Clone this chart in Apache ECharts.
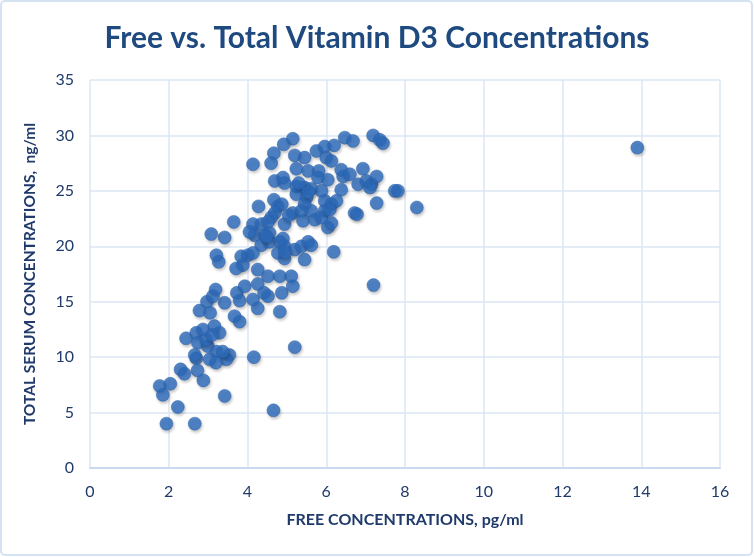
<!DOCTYPE html>
<html><head><meta charset="utf-8">
<script src="https://cdn.jsdelivr.net/npm/echarts@6/dist/echarts.min.js"></script>
<style>html,body{margin:0;padding:0;background:#fff}#c{width:754px;height:557px}</style>
</head><body><div id="c"></div>
<script>
const titleText = "Free vs. Total Vitamin D3 Concentrations";
const xName = "FREE CONCENTRATIONS, pg/ml";
const yName = "TOTAL SERUM CONCENTRATIONS,  ng/ml";
const xTicks = [0,2,4,6,8,10,12,14,16];
const yTicks = [0,5,10,15,20,25,30,35];
const freeConc = [5.15,4.92,4.67,4.60,4.14,5.20,5.45,5.75,5.96,6.0,6.13,5.24,5.54,4.69,4.90,4.94,5.81,5.79,6.04,5.24,5.45,5.62,5.88,5.24,5.50,5.45,5.96,6.13,4.67,4.77,4.87,4.28,5.15,5.37,5.41,5.62,5.71,5.96,5.88,6.04,4.69,4.60,4.94,3.65,4.14,4.35,4.52,4.18,4.44,4.56,3.42,4.35,4.56,4.82,4.90,4.94,5.20,5.37,5.54,5.62,4.77,4.94,5.45,3.84,4.01,4.14,3.88,3.71,4.26,4.52,4.82,5.11,6.47,6.68,6.2,7.19,7.36,7.44,6.93,6.38,6.43,6.60,6.81,7.02,7.15,7.28,7.11,6.38,7.74,7.82,6.26,6.09,7.28,6.72,6.78,8.30,6.13,6.19,7.2,13.9,3.08,3.21,3.27,3.73,3.80,3.93,4.14,4.26,4.26,4.42,4.52,4.87,5.15,4.82,3.42,3.67,3.80,5.20,4.16,3.54,3.46,3.42,4.66,3.19,2.97,3.12,2.78,3.05,2.44,2.70,2.87,3.16,3.29,2.74,2.99,3.21,3.37,2.70,2.66,3.04,3.2,2.73,2.30,2.40,2.88,1.77,2.04,1.85,2.23,1.94,2.66,4.95,5.3,5.55,4.48,2.95,3.1,5.05,4.05];
const totalConc = [29.7,29.2,28.4,27.5,27.4,28.2,28.0,28.6,29.0,28.0,27.7,27.0,26.8,25.9,26.2,25.7,26.8,26.2,26.0,25.4,25.3,25.2,25.0,24.7,24.4,23.8,24.1,23.8,24.2,23.6,23.8,23.6,23.0,23.2,22.3,23.2,22.4,23.2,22.6,21.7,23.0,22.6,22.0,22.2,22.0,22.0,22.2,21.0,21.0,21.2,20.8,20.1,20.4,20.4,20.7,20.0,19.7,20.0,20.4,20.1,19.4,18.9,18.8,19.1,19.2,19.4,18.3,18.0,17.9,17.3,17.3,17.3,29.8,29.5,29.1,30.0,29.6,29.3,27.0,26.9,26.3,26.5,25.6,25.9,25.6,26.3,25.3,25.1,25.0,25.0,24.1,23.3,23.9,23.0,22.9,23.5,22.1,19.5,16.5,28.9,21.1,19.2,18.6,15.8,15.1,16.4,15.2,14.4,16.6,15.8,15.5,15.8,16.4,14.1,14.9,13.7,13.2,10.9,10.0,10.2,9.8,6.5,5.2,16.1,15.0,15.5,14.2,14.0,11.7,12.2,12.5,12.8,12.2,11.3,11.0,10.5,10.5,9.9,10.2,9.8,9.5,8.8,8.9,8.5,7.9,7.4,7.6,6.6,5.5,4.0,4.0,19.5,25.7,24.9,20.9,11.6,12.0,22.8,21.3];

const pts = freeConc.map((x,i)=>[x,totalConc[i]]);
const chart = echarts.init(document.getElementById('c'), null, {renderer:'canvas'});
const dark = '#1f3a6b';
chart.setOption({
  animation:false,
  backgroundColor:'#fff',
  graphic:[{type:'rect',shape:{x:1,y:1,width:751,height:554,r:4},style:{fill:'none',stroke:'#d5e2f2',lineWidth:2},z:-1}],
  title:{text:titleText,left:'center',top:18,textStyle:{fontFamily:'Lato',fontWeight:'bold',fontSize:30,color:'#1f4a80'}},
  grid:{left:90,right:34,top:80,bottom:89},
  xAxis:{type:'value',min:0,max:16,interval:2,name:xName,nameLocation:'middle',nameGap:44,
    nameTextStyle:{fontFamily:'Lato',fontWeight:'bold',fontSize:16,color:dark},
    axisLine:{show:true,lineStyle:{color:'#c9d9ee',width:2}},axisTick:{show:false},
    axisLabel:{fontFamily:'Lato',fontSize:16,color:dark,margin:16,formatter:v=>xTicks.includes(v)?String(v):''},
    splitLine:{show:true,lineStyle:{color:'#dbe6f5',width:1.5}}},
  yAxis:{type:'value',min:0,max:35,interval:5,name:yName,nameLocation:'middle',nameGap:52,
    nameTextStyle:{fontFamily:'Lato',fontWeight:'bold',fontSize:15.5,color:dark},
    axisLine:{show:false},axisTick:{show:false},
    axisLabel:{fontFamily:'Lato',fontSize:16,color:dark,margin:16,formatter:v=>yTicks.includes(v)?String(v):''},
    splitLine:{show:true,lineStyle:{color:'#dbe6f5',width:1.5}}},
  series:[{type:'scatter',data:pts,symbolSize:13,
    itemStyle:{color:'#2d6dbf',borderColor:'#2a5ea6',borderWidth:0.6,shadowColor:'rgba(0,0,0,0.28)',shadowBlur:3,shadowOffsetX:1,shadowOffsetY:2}}]
});
</script></body></html>
